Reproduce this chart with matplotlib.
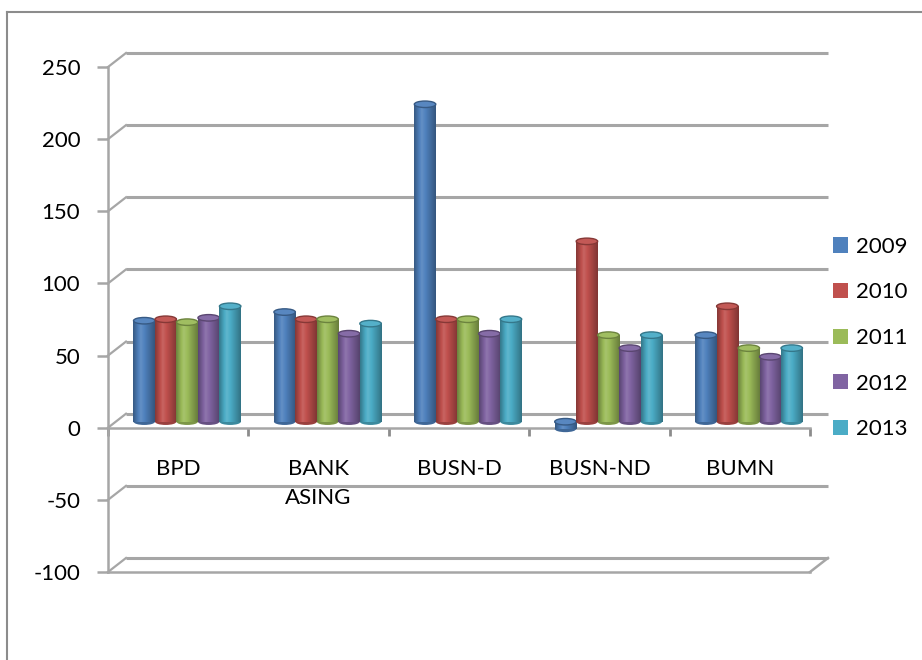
import numpy as np
import matplotlib
matplotlib.use("Agg")
import matplotlib.pyplot as plt
from matplotlib.transforms import ScaledTranslation
from matplotlib.patches import Ellipse, Patch
from matplotlib.lines import Line2D
from matplotlib.colors import to_rgb

plt.rcParams['font.family'] = ['Lato', 'DejaVu Sans']

# data
categories = ["BPD", "BANK\nASING", "BUSN-D", "BUSN-ND", "BUMN"]
years = ["2009", "2010", "2011", "2012", "2013"]
v2009 = [70, 76, 220, -5, 60]
v2010 = [71, 71, 71, 125, 80]
v2011 = [69, 71, 71, 60, 51]
v2012 = [72, 61, 61, 51, 45]
v2013 = [80, 68, 71, 60, 51]
series = [v2009, v2010, v2011, v2012, v2013]
colors = ["#4F81BD", "#C0504D", "#9BBB59", "#8064A2", "#4BACC6"]
yticks = [-100, -50, 0, 50, 100, 150, 200, 250]

W, H = 922, 660
fig = plt.figure(figsize=(W / 100, H / 100), dpi=100)
ax = fig.add_axes([108 / W, 88 / H, 702 / W, 505 / H])
ax.set_xlim(-0.5, 4.5)
ax.set_ylim(-100, 250)

grid_c = "#A6A6A6"
back = ax.transData + ScaledTranslation(18 / 100, 14 / 100, fig.dpi_scale_trans)
mid = ax.transData + ScaledTranslation(9 / 100, 6 / 100, fig.dpi_scale_trans)

# back wall gridlines + slanted side lines
for v in yticks:
    ax.plot([-0.5, 4.5], [v, v], color=grid_c, lw=2.2, transform=back,
            clip_on=False, zorder=1, solid_capstyle='butt')
    p0 = ax.transData.transform((-0.5, v))
    p1 = back.transform((-0.5, v))
    fig.add_artist(Line2D([p0[0] / W, p1[0] / W], [p0[1] / H, p1[1] / H],
                          color=grid_c, lw=1.6))

# front floor lines
ax.plot([-0.5, 4.5], [0, 0], color=grid_c, lw=1.8, clip_on=False, zorder=5)
ax.plot([-0.5, 4.5], [-100, -100], color=grid_c, lw=1.8, clip_on=False, zorder=5)
p0 = ax.transData.transform((4.5, -100))
p1 = back.transform((4.5, -100))
fig.add_artist(Line2D([p0[0] / W, p1[0] / W], [p0[1] / H, p1[1] / H],
                      color=grid_c, lw=1.8))
ax.vlines(np.arange(-0.5, 5, 1), -5.5, 0, color="#8C8C8C", lw=2, clip_on=False)

# axis
for s in ["top", "right", "bottom"]:
    ax.spines[s].set_visible(False)
ax.spines["left"].set_color(grid_c)
ax.spines["left"].set_linewidth(1.8)
ax.set_yticks(yticks)
ax.set_yticklabels([str(t) for t in yticks], fontsize=16)
ax.tick_params(axis='y', length=8, width=1.8, color=grid_c, pad=12)
ax.set_xticks([])

for i, c in enumerate(categories):
    ax.text(i, -22, c, ha='center', va='top', fontsize=16, linespacing=1.55)


def shade(rgb, f):
    rgb = np.array(rgb)
    if f >= 0:
        return rgb + (1 - rgb) * f
    return rgb * (1 + f)


bw = 0.153
eh = 4.5
prof = np.linspace(0, 1, 40)
fac = np.where(prof < 0.35, -0.3 + prof / 0.35 * 0.42, 0.12 - (prof - 0.35) / 0.65 * 0.45)
for j, vals in enumerate(series):
    base = np.array(to_rgb(colors[j]))
    grad = np.array([shade(base, f) for f in fac])[None, :, :]
    for i, v in enumerate(vals):
        xc = i + (j - 2) * bw
        lo, hi = min(0, v), max(0, v)
        z = 10 + j * 0.1
        ax.add_patch(Ellipse((xc, lo), bw, eh, transform=mid,
                             facecolor=shade(base, -0.2), edgecolor='none', zorder=z))
        ax.imshow(grad, extent=(xc - bw / 2, xc + bw / 2, lo, hi), aspect='auto',
                  transform=mid, zorder=z + 0.01, interpolation='bilinear')
        ax.add_patch(Ellipse((xc, hi), bw, eh, transform=mid,
                             facecolor=shade(base, 0.05), edgecolor=shade(base, -0.3),
                             lw=1.0, zorder=z + 0.02))

ax.set_xlim(-0.5, 4.5)
ax.set_ylim(-100, 250)

handles = [Patch(facecolor=c, edgecolor='none') for c in colors]
fig.legend(handles, years, loc='center left', bbox_to_anchor=(833 / W, 322 / H),
           frameon=False, fontsize=16, handlelength=0.68, handleheight=0.68,
           handletextpad=0.35, labelspacing=1.15, borderpad=0, borderaxespad=0)

# outer chart border
fig.add_artist(Line2D([7 / W, 1], [1 - 12 / H, 1 - 12 / H], color="#8C8C8C", lw=1.5))
fig.add_artist(Line2D([7 / W, 7 / W], [0, 1 - 12 / H], color="#8C8C8C", lw=1.5))

fig.savefig("out.png", dpi=100)
